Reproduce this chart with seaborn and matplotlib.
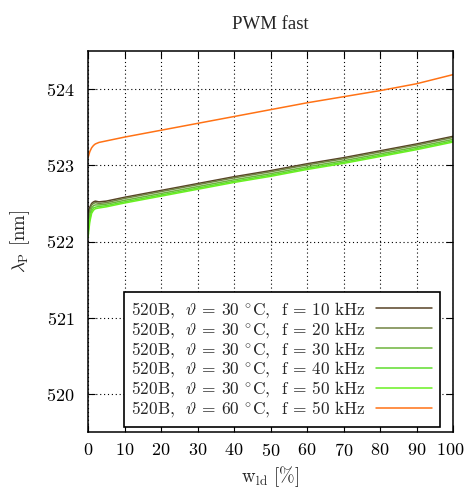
import numpy as np
import pandas as pd
import matplotlib
matplotlib.use("Agg")
import matplotlib.pyplot as plt
import matplotlib.transforms as mtransforms
import seaborn as sns

# ---- data -------------------------------------------------------------
w_ld = [0, 0.5, 1, 1.5, 2, 3, 5, 10, 20, 30, 40, 50, 60, 70, 80, 90, 100]

lam_30C_10k = [522.37, 522.45, 522.50, 522.52, 522.53, 522.52, 522.53, 522.58, 522.67,
               522.76, 522.85, 522.93, 523.02, 523.10, 523.19, 523.28, 523.38]
lam_30C_20k = [522.30, 522.42, 522.48, 522.50, 522.51, 522.50, 522.51, 522.565, 522.655,
               522.745, 522.835, 522.915, 523.005, 523.085, 523.175, 523.265, 523.365]
lam_30C_30k = [522.20, 522.36, 522.44, 522.47, 522.48, 522.48, 522.49, 522.54, 522.63,
               522.72, 522.81, 522.89, 522.98, 523.06, 523.15, 523.24, 523.34]
lam_30C_40k = [522.12, 522.30, 522.40, 522.44, 522.45, 522.46, 522.47, 522.52, 522.61,
               522.70, 522.79, 522.87, 522.96, 523.04, 523.13, 523.22, 523.32]
lam_30C_50k = [522.05, 522.26, 522.37, 522.41, 522.43, 522.44, 522.455, 522.505, 522.595,
               522.685, 522.775, 522.855, 522.945, 523.025, 523.115, 523.205, 523.305]
lam_60C_50k = [523.10, 523.18, 523.23, 523.26, 523.28, 523.30, 523.32, 523.37, 523.46,
               523.55, 523.64, 523.73, 523.82, 523.90, 523.98, 524.07, 524.19]

labels = [
    r"520B,  $\vartheta$ = 30 $^{\circ}$C,  f = 10 kHz",
    r"520B,  $\vartheta$ = 30 $^{\circ}$C,  f = 20 kHz",
    r"520B,  $\vartheta$ = 30 $^{\circ}$C,  f = 30 kHz",
    r"520B,  $\vartheta$ = 30 $^{\circ}$C,  f = 40 kHz",
    r"520B,  $\vartheta$ = 30 $^{\circ}$C,  f = 50 kHz",
    r"520B,  $\vartheta$ = 60 $^{\circ}$C,  f = 50 kHz",
]
colors = ["#574326", "#718442", "#6db43c", "#5fdc2e", "#6af022", "#ff7215"]

series = [lam_30C_10k, lam_30C_20k, lam_30C_30k, lam_30C_40k, lam_30C_50k, lam_60C_50k]
df = pd.concat(
    [pd.DataFrame({"w": w_ld, "lam": s, "series": lab}) for s, lab in zip(series, labels)],
    ignore_index=True,
)

# ---- style ------------------------------------------------------------
sns.set_theme(style="ticks")
plt.rcParams["font.family"] = ["cmr10", "DejaVu Serif"]
plt.rcParams["mathtext.fontset"] = "cm"
plt.rcParams["axes.unicode_minus"] = False
plt.rcParams["axes.formatter.use_mathtext"] = True

fig = plt.figure(figsize=(4.65, 4.93), dpi=100)
ax = fig.add_axes([88 / 465, 1 - 432 / 493, 365 / 465, 381 / 493])

sns.lineplot(data=df, x="w", y="lam", hue="series", hue_order=labels,
             palette=colors, linewidth=1.1, ax=ax, estimator=None, sort=False)

ax.set_xlim(0, 100)
ax.set_ylim(519.5, 524.5)
ax.set_xticks(np.arange(0, 101, 10))
ax.set_yticks([520, 521, 522, 523, 524])
ax.grid(True, color="black", linestyle=(0, (1, 2.5)), linewidth=0.8)
ax.set_axisbelow(True)
for sp in ax.spines.values():
    sp.set_visible(True)
    sp.set_color("black")
    sp.set_linewidth(1.1)
ax.tick_params(direction="in", top=True, right=True, length=5, width=0.8,
               labelsize=13, colors="black")
ax.tick_params(axis="x", pad=7)
ax.tick_params(axis="y", pad=10)

# keep the last x tick label inside the canvas
last_tick = ax.xaxis.get_major_ticks()[-1]
last_tick.label1.set_transform(
    last_tick.label1.get_transform()
    + mtransforms.ScaledTranslation(-3 / 100, 0, fig.dpi_scale_trans))

ax.set_xlabel(r"$\mathrm{w_{ld}}$ [%]", fontsize=13.5, labelpad=4)
ax.set_ylabel(r"$\lambda_{\mathrm{P}}$ [nm]", fontsize=13.5, labelpad=10)
ax.set_title("PWM fast", fontsize=13.5, family="Liberation Serif", pad=16)

leg = ax.legend(loc="lower right", bbox_to_anchor=(0.964, 0.013), frameon=True,
                fancybox=False, edgecolor="black", framealpha=1, fontsize=12.5,
                markerfirst=False, handlelength=3.2, handletextpad=0.6,
                labelspacing=0.0, borderpad=0.45, borderaxespad=0.0)
leg.get_frame().set_linewidth(1.2)

fig.savefig("out.png", dpi=100)
